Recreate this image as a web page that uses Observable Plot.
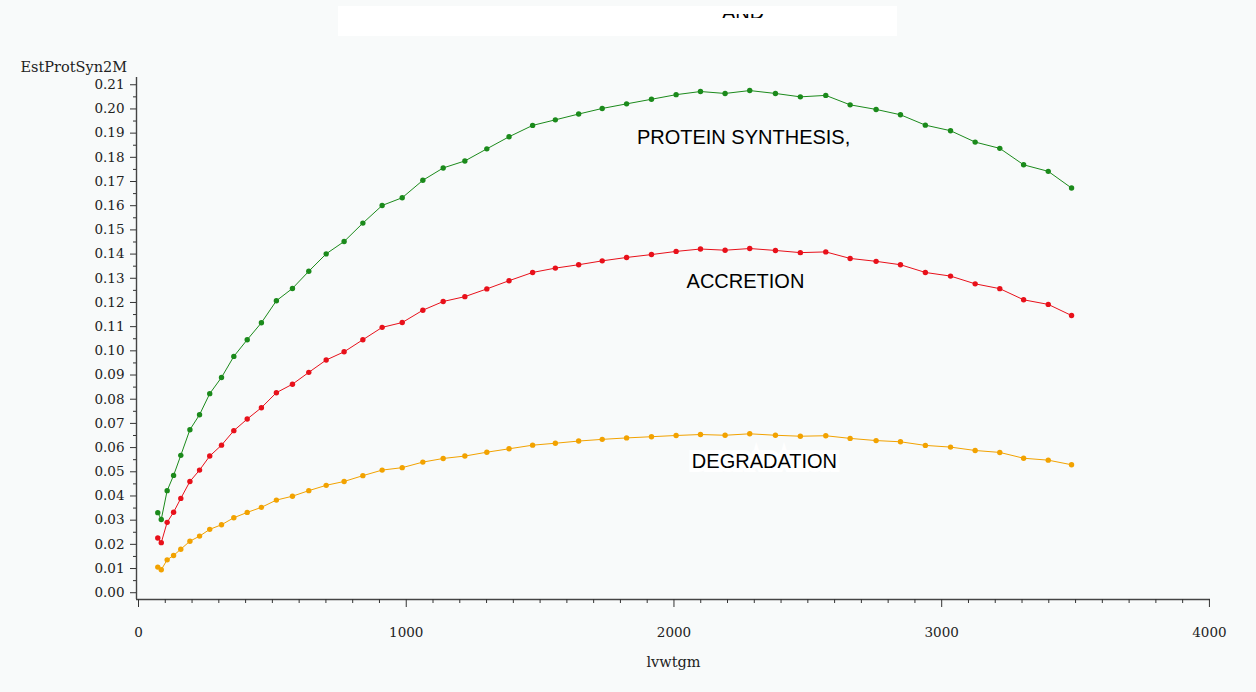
<!DOCTYPE html>
<html>
<head>
<meta charset="utf-8">
<script src="https://cdn.jsdelivr.net/npm/d3@7"></script>
<script src="https://cdn.jsdelivr.net/npm/@observablehq/plot@0.6"></script>
<style>
  html, body { margin: 0; padding: 0; background: #f8fafa; }
  #page { position: relative; width: 1256px; height: 692px; overflow: hidden; }
  #titlebox { position: absolute; left: 338px; top: 6px; width: 559px; height: 30px; background: #ffffff; }
  #titleclip { position: absolute; left: 722px; top: 14px; width: 60px; height: 4px; overflow: hidden; }
  #titleclip span { position: absolute; left: 0; top: -12px; font: 20px "Liberation Sans", Arial, sans-serif; line-height: 20px; color: #000; white-space: nowrap; }
  #chart { position: absolute; left: 0; top: 0; }
</style>
</head>
<body>
<div id="page">
  <div id="titlebox"></div>
  <div id="titleclip"><span>AND</span></div>
  <div id="chart"></div>
</div>
<script>
// lvwtgm values shared by the three series
const lvwtgm = [72, 85, 107, 131, 158, 192, 228, 266, 310, 356, 406, 459, 515, 575, 636, 701,
  768, 838, 910, 985, 1062, 1138, 1219, 1301, 1384, 1472, 1557, 1644, 1732, 1823, 1916, 2008,
  2099, 2191, 2283, 2379, 2472, 2567, 2658, 2755, 2846, 2939, 3033, 3125, 3217, 3306, 3398, 3485];

// Estimated protein synthesis
const synthesis = [0.0331, 0.0303, 0.0422, 0.0485, 0.0568, 0.0674, 0.0736, 0.0823, 0.0890, 0.0977,
  0.1046, 0.1116, 0.1207, 0.1258, 0.1329, 0.1401, 0.1452, 0.1528, 0.1601, 0.1633, 0.1705, 0.1756,
  0.1785, 0.1835, 0.1885, 0.1932, 0.1955, 0.1979, 0.2002, 0.2021, 0.2040, 0.2059, 0.2072, 0.2064,
  0.2076, 0.2064, 0.2050, 0.2056, 0.2017, 0.1998, 0.1976, 0.1933, 0.1910, 0.1863, 0.1837, 0.1769,
  0.1742, 0.1673];

// Accretion
const accretion = [0.0226, 0.0207, 0.0291, 0.0333, 0.0390, 0.0460, 0.0507, 0.0565, 0.0610, 0.0670,
  0.0718, 0.0765, 0.0827, 0.0862, 0.0911, 0.0962, 0.0996, 0.1046, 0.1097, 0.1117, 0.1168, 0.1204,
  0.1224, 0.1256, 0.1290, 0.1324, 0.1342, 0.1356, 0.1372, 0.1386, 0.1398, 0.1411, 0.1421, 0.1416,
  0.1423, 0.1415, 0.1406, 0.1409, 0.1382, 0.1370, 0.1356, 0.1324, 0.1309, 0.1277, 0.1257, 0.1211,
  0.1192, 0.1146];

// Degradation
const degradation = [0.0106, 0.0095, 0.0136, 0.0154, 0.0180, 0.0213, 0.0234, 0.0262, 0.0281, 0.0310,
  0.0332, 0.0353, 0.0383, 0.0399, 0.0422, 0.0444, 0.0460, 0.0484, 0.0507, 0.0517, 0.0540, 0.0555,
  0.0565, 0.0581, 0.0595, 0.0610, 0.0618, 0.0627, 0.0634, 0.0640, 0.0645, 0.0650, 0.0654, 0.0651,
  0.0657, 0.0651, 0.0647, 0.0649, 0.0638, 0.0629, 0.0624, 0.0609, 0.0602, 0.0588, 0.0580, 0.0556,
  0.0548, 0.0529];

const seriesNames = ["synthesis", "accretion", "degradation"];
const seriesColors = ["#1b8a1b", "#e8101a", "#f2a200"];

// Curve labels
const labelText = ["PROTEIN SYNTHESIS,", "ACCRETION", "DEGRADATION"];
const labelX = [2260, 2267, 2338];
const labelY = [0.1882, 0.1287, 0.0543];

// Axis ticks
const xTicks = [0, 1000, 2000, 3000, 4000];
const xMinorTicks = d3.range(100, 4000, 100).filter(v => v % 1000 !== 0);
const yTicks = d3.range(0, 22).map(i => i / 100);
const yMinorTicks = d3.range(0, 21).map(i => i / 100 + 0.005);

const xDomain = [-7.5, 4004];
const yDomain = [-0.0028, 0.213];

const columns = [synthesis, accretion, degradation];
const rows = [];
columns.forEach((vals, s) => {
  vals.forEach((v, i) => rows.push({series: seriesNames[s], x: lvwtgm[i], y: v}));
});
const labels = labelText.map((t, i) => ({text: t, x: labelX[i], y: labelY[i]}));

const serif = "'DejaVu Serif', 'Liberation Serif', serif";
const sans = "'Liberation Sans', Arial, sans-serif";

const chart = Plot.plot({
  width: 1256,
  height: 692,
  marginLeft: 136,
  marginRight: 46,
  marginTop: 77,
  marginBottom: 93,
  style: {background: "transparent", overflow: "visible"},
  x: {domain: xDomain, axis: null},
  y: {domain: yDomain, axis: null},
  color: {domain: seriesNames, range: seriesColors},
  marks: [
    // axis lines
    Plot.ruleX([xDomain[0]], {y1: yDomain[0], y2: yDomain[1], stroke: "#444", strokeWidth: 1.4}),
    Plot.ruleY([yDomain[0]], {x1: xDomain[0], x2: xDomain[1], stroke: "#444", strokeWidth: 1.4}),
    // y axis
    Plot.axisY(yTicks, {anchor: "left", tickSize: 6, tickPadding: 6, tickFormat: d3.format(".2f"),
      fontSize: 13.5, fontFamily: serif, fill: "#222", stroke: "#333", label: null}),
    Plot.axisY(yMinorTicks, {anchor: "left", tickSize: 3, tickFormat: () => "", stroke: "#333", label: null}),
    // x axis
    Plot.axisX(xTicks, {anchor: "bottom", tickSize: 8, tickPadding: 20, tickFormat: d => String(d),
      fontSize: 13.5, fontFamily: serif, fill: "#222", stroke: "#333", label: null}),
    Plot.axisX(xMinorTicks, {anchor: "bottom", tickSize: 4, tickFormat: () => "", stroke: "#333", label: null}),
    // axis titles
    Plot.text(["EstProtSyn2M"], {frameAnchor: "top-left", dx: -116, dy: -10, textAnchor: "start",
      lineAnchor: "middle", fontSize: 14.5, fontFamily: serif, fill: "#222"}),
    Plot.text(["lvwtgm"], {frameAnchor: "bottom", dy: 63, lineAnchor: "middle",
      fontSize: 14.5, fontFamily: serif, fill: "#222"}),
    // series
    Plot.line(rows, {x: "x", y: "y", z: "series", stroke: "series", strokeWidth: 1}),
    Plot.dot(rows, {x: "x", y: "y", fill: "series", r: 2.7}),
    // curve labels
    Plot.text(labels.slice(0, 2), {x: "x", y: "y", text: "text", fontSize: 20, fontFamily: sans, fill: "#000"}),
    Plot.text(labels.slice(2), {x: "x", y: "y", text: "text", fontSize: 20, fontFamily: sans, fill: "#000",
      stroke: "#ffffff", strokeWidth: 8, strokeLinejoin: "miter"})
  ]
});

document.getElementById("chart").appendChild(chart);
</script>
</body>
</html>
